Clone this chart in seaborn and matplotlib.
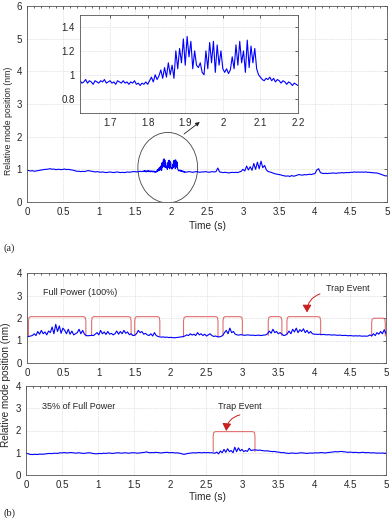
import numpy as np
import pandas as pd
import matplotlib
matplotlib.use("Agg")
import matplotlib.pyplot as plt
from matplotlib.patches import Ellipse
from matplotlib.ticker import FormatStrFormatter, MultipleLocator
import seaborn as sns

# ── Data ────────────────────────────────────────────────────────────────────
STEP = 0.025      # sample spacing of the full-length traces (s)
INSET_STEP = 0.005

# (a) top panel, 0 .. 1.6 s and 2.225 .. 5 s
top_left = [
    0.97, 0.96, 0.95, 0.96, 0.94, 0.95, 0.96, 0.97, 0.98, 0.99, 1.0, 1.0,
    1.01, 1.02, 1.0, 1.01, 0.99, 1.0, 1.0, 0.99, 1.0, 1.01, 0.99, 1.0,
    0.99, 0.98, 0.97, 0.95,
    0.94, 0.94, 0.93, 0.94, 0.93, 0.95, 0.96, 0.95, 0.94, 0.93, 0.92, 0.93,
    0.92, 0.91, 0.92, 0.91, 0.90, 0.91, 0.92, 0.91, 0.90, 0.91, 0.92, 0.91,
    0.90, 0.91, 0.90, 0.91, 0.92, 0.91, 0.92, 0.93,
    0.93, 0.92, 0.93, 0.94, 0.93,
]
top_right = [
    0.92, 0.93, 0.92, 0.91, 0.92, 0.93, 0.92, 0.91, 0.92, 0.92, 0.93, 0.92,
    0.91, 0.92, 0.93, 0.92,
    0.93, 1.04, 0.92, 0.91,
    0.90, 0.91, 0.90, 0.89, 0.90, 0.91, 0.90, 0.91, 0.90, 0.92, 0.94,
    1.0, 0.95, 1.1, 0.98, 1.08, 0.97, 1.18, 1.0, 1.22, 1.02, 1.25, 1.05, 1.12, 0.98,
    0.93, 0.92, 0.9, 0.88, 0.86, 0.85, 0.84, 0.83, 0.81, 0.8, 0.79, 0.8,
    0.78, 0.81, 0.79, 0.8, 0.82,
    0.84, 0.83, 0.82, 0.84, 0.83, 0.84, 0.85, 0.84, 0.86, 0.87,
    0.98, 1.02, 0.9,
    0.88, 0.87, 0.88, 0.87, 0.88, 0.88, 0.89, 0.88, 0.88, 0.89, 0.89, 0.9,
    0.89, 0.9, 0.9, 0.9, 0.91,
    0.91, 0.92, 0.91, 0.92, 0.91, 0.92, 0.91, 0.92, 0.91, 0.91, 0.9, 0.9,
    0.89, 0.89, 0.88, 0.86, 0.84, 0.82, 0.8, 0.8,
]
top_left_start, top_right_start = 0.0, 2.225

# (a) inset, 1.62 .. 2.2 s
inset_vals = [
    0.95, 0.93, 0.94, 0.96, 0.93, 0.95, 0.94, 0.92, 0.95, 0.94, 0.93, 0.95,
    0.94, 0.96, 0.93, 0.94, 0.95, 0.93, 0.94, 0.92, 0.95, 0.94, 0.93, 0.95,
    0.93, 0.94, 0.92, 0.94, 0.93, 0.95, 0.92, 0.93, 0.91, 0.93, 0.92, 0.94, 0.92,
    0.95, 0.98, 0.94, 1.0, 0.96, 0.99, 1.04, 0.97, 1.06, 0.98, 1.1, 1.0, 1.08, 0.97,
    1.2, 1.05, 1.22, 1.1, 1.3, 1.08, 1.32, 1.15, 1.28, 1.05, 1.2, 1.08,
    1.06, 1.1, 1.02, 1.0,
    1.2, 1.05, 1.27, 1.1, 1.28, 1.02, 1.25, 1.08, 1.2, 1.05,
    1.02, 1.05, 1.01, 1.04,
    1.15, 1.05, 1.25, 1.08, 1.28, 1.1, 1.2, 1.02, 1.29, 1.06, 1.24, 1.1, 1.22, 1.05,
    1.0, 0.98, 0.96, 0.95, 0.97, 0.96, 0.98, 0.95, 0.97, 0.94, 0.96, 0.95,
    0.93, 0.95, 0.94, 0.92, 0.94, 0.93, 0.91, 0.93, 0.92, 0.91,
]
inset_start = 1.62

# (b) full power, 0 .. 5 s
full_vals = [
    1.17, 1.18, 1.2, 1.22,
    1.3, 1.22, 1.4, 1.28, 1.45, 1.3, 1.38, 1.25, 1.42,
    1.35, 1.6, 1.3, 1.72, 1.4, 1.65, 1.32, 1.55,
    1.45, 1.3, 1.5, 1.28, 1.42, 1.25, 1.3,
    1.35, 1.5, 1.3, 1.45, 1.28,
    1.22, 1.21, 1.22, 1.23, 1.22,
    1.28, 1.35, 1.25, 1.45, 1.3, 1.38, 1.27, 1.4, 1.28, 1.32, 1.25,
    1.3, 1.42, 1.28, 1.4, 1.3, 1.45, 1.32, 1.38, 1.26, 1.3,
    1.22, 1.23,
    1.3, 1.45, 1.35, 1.4, 1.28, 1.32, 1.25,
    1.22, 1.3, 1.2, 1.35, 1.22, 1.18,
    1.16, 1.15, 1.16, 1.14, 1.15, 1.13, 1.14, 1.13, 1.12, 1.13, 1.14, 1.15, 1.16, 1.18,
    1.2, 1.25, 1.22, 1.3, 1.24, 1.28, 1.22, 1.35, 1.25, 1.3, 1.22, 1.28, 1.2,
    1.25, 1.3, 1.22, 1.18, 1.2, 1.17,
    1.16, 1.18, 1.22,
    1.35, 1.45, 1.3, 1.55, 1.35, 1.4, 1.28,
    1.25, 1.24, 1.26, 1.25, 1.23, 1.24, 1.25, 1.24, 1.23, 1.24, 1.22, 1.23,
    1.24, 1.22, 1.23, 1.24, 1.25,
    1.3, 1.42, 1.32, 1.5, 1.35, 1.4, 1.3, 1.35, 1.28,
    1.22, 1.24,
    1.3, 1.42, 1.3, 1.5, 1.38, 1.55, 1.35, 1.48, 1.4, 1.52, 1.35, 1.45, 1.32,
    1.4, 1.3, 1.28,
    1.28, 1.27, 1.28, 1.26, 1.27, 1.26, 1.25, 1.26, 1.25, 1.24, 1.25, 1.24,
    1.23, 1.24, 1.23, 1.22, 1.23, 1.22, 1.21, 1.22, 1.21, 1.2, 1.21, 1.2,
    1.21, 1.2, 1.19, 1.2, 1.19, 1.2,
    1.25, 1.2, 1.3, 1.22, 1.35, 1.28, 1.4, 1.3, 1.48, 1.3,
]

# (b) 35 % of full power, 0 .. 5 s
low_vals = [
    0.98, 0.96, 0.93, 0.92,
    0.92, 0.93, 0.92, 0.93, 0.94, 0.93, 0.94, 0.95, 0.96,
    0.97, 0.96, 0.97, 0.98, 0.97, 0.98, 1.0, 0.99, 1.01, 1.0, 0.99, 1.0,
    1.01, 1.0, 0.99, 0.98, 1.0, 0.99, 0.98, 0.97, 0.98, 0.99, 1.0, 0.99,
    0.97, 0.96, 0.95,
    0.96, 0.97, 0.96, 0.98, 0.97, 0.98, 0.99, 0.98, 0.97, 0.98, 0.99, 1.0,
    0.99, 0.98, 0.99, 1.0, 0.99, 0.98, 0.99, 1.0, 1.0,
    0.99, 0.98, 0.99, 1.0, 1.01, 1.02, 1.04, 1.01, 1.0, 1.01, 1.0, 1.02,
    1.01, 1.0, 0.99, 1.0, 1.01, 1.02, 1.01, 1.0,
    1.01, 1.0, 0.99, 1.0, 0.98, 0.97, 0.94, 0.93, 0.95, 0.97, 0.98, 0.99,
    1.0, 0.99, 1.0, 1.01, 1.0, 1.0, 1.01, 1.0, 1.01, 1.0, 1.0, 0.99,
    0.98, 1.03, 0.95, 1.08, 1.0, 1.15, 1.02, 1.18, 1.05, 1.1, 1.0, 1.25,
    1.05, 1.22, 1.08, 1.15, 1.05, 1.1, 1.06, 1.2,
    1.1, 1.12, 1.13, 1.12, 1.11, 1.12, 1.1, 1.09, 1.08, 1.09, 1.07, 1.06,
    1.05, 1.06, 1.04, 1.03,
    1.02, 1.0, 1.01, 0.99, 0.98, 0.97, 0.98, 0.99, 0.98, 0.97, 0.98, 0.99,
    1.0, 0.99, 0.98, 0.97, 0.98, 0.99, 0.98, 0.99,
    1.0, 0.99, 1.0, 1.01, 1.0, 0.99, 1.0, 1.01, 1.02, 1.03, 1.04, 1.05,
    1.04, 1.05, 1.06, 1.05, 1.04, 1.03, 1.02, 1.03, 1.02, 1.01, 1.02, 1.01,
    1.0, 1.01, 1.02, 1.01, 1.0, 1.01, 1.0, 0.99, 1.0, 0.99, 0.98, 0.99,
    0.98, 0.99, 0.98, 0.98,
]

# trap-event windows (red boxes)
full_trap_start = [0.02, 0.9, 1.5, 2.18, 2.73, 3.36, 3.62, 4.8]
full_trap_end = [0.82, 1.45, 1.85, 2.66, 3.0, 3.55, 4.09, 4.99]
full_trap_level = [2.06, 2.06, 2.06, 2.06, 2.06, 2.06, 2.06, 1.99]
full_trap_base = [1.2, 1.24, 1.22, 1.15, 1.25, 1.22, 1.25, 1.2]
low_trap_start = [2.6]
low_trap_end = [3.18]
low_trap_level = [1.95]
low_trap_base = [1.05]

time_ticks = [0, 0.5, 1, 1.5, 2, 2.5, 3, 3.5, 4, 4.5, 5]
inset_xticks = [1.7, 1.8, 1.9, 2.0, 2.1, 2.2]
inset_yticks = [0.8, 1.0, 1.2, 1.4]

BLUE = "#0000FF"
TRAP_RED = "#E07070"
ARROW_RED = "#C81E1E"
GRID = "#d9d9d9"
TXT = "#262626"

sns.set_style("white")
plt.rcParams["font.family"] = ["Liberation Sans", "DejaVu Sans"]


def trace(vals, start, step):
    t = start + step * np.arange(len(vals))
    return pd.DataFrame({"t": t, "v": vals})


def trap_path(s, e, level, base):
    xs = [s, s, s + 0.008, s + 0.03, e - 0.03, e - 0.008, e, e]
    ys = [base, level - 0.2, level - 0.04, level, level, level - 0.04, level - 0.2, base]
    return xs, ys


def style_axes(ax, xlim, ylim, xticks, yticks, fs=7, minor=None):
    ax.set_xlim(*xlim)
    ax.set_ylim(*ylim)
    ax.set_xticks(xticks)
    ax.set_yticks(yticks)
    if minor:
        ax.xaxis.set_minor_locator(MultipleLocator(minor))
    ax.xaxis.set_major_formatter(FormatStrFormatter("%g"))
    ax.yaxis.set_major_formatter(FormatStrFormatter("%g"))
    ax.grid(True, which="major", color=GRID, lw=0.5, ls=(0, (2, 1.5)))
    ax.tick_params(which="both", direction="in", top=True, right=True,
                   labelsize=fs, colors=TXT, length=2.5, width=0.5)
    ax.tick_params(which="minor", length=1.5)
    for sp in ax.spines.values():
        sp.set_color("#555555")
        sp.set_linewidth(0.6)
    ax.set_xlabel("")
    ax.set_ylabel("")


fig = plt.figure(figsize=(3.92, 5.30), dpi=100)
W, H = 392.0, 530.0


def px_axes(x0, y0, x1, y1):
    return fig.add_axes([x0 / W, 1 - y1 / H, (x1 - x0) / W, (y1 - y0) / H])


def trap_arrow(ax, start, end):
    ax.annotate("", xy=end, xytext=start,
                arrowprops=dict(arrowstyle="-|>,head_length=0.5,head_width=0.3",
                                color=ARROW_RED, lw=0.7, mutation_scale=9,
                                shrinkA=0, shrinkB=0,
                                connectionstyle="arc3,rad=0.35"))


# ── (a) ─────────────────────────────────────────────────────────────────────
ax1 = px_axes(27, 6, 387, 202)
inset = trace(inset_vals, inset_start, INSET_STEP)
top = pd.concat([trace(top_left, top_left_start, STEP), inset,
                 trace(top_right, top_right_start, STEP)], ignore_index=True)
sns.lineplot(data=top, x="t", y="v", ax=ax1, color=BLUE, lw=0.8,
             estimator=None, sort=False)
style_axes(ax1, (0, 5), (0, 6), time_ticks, range(0, 7), minor=0.1)
ax1.add_patch(Ellipse((1.955, 1.05), 0.83, 2.16, fill=False,
                      edgecolor="#444444", lw=0.6))
ax1.annotate("", xy=(2.43, 2.5), xytext=(2.15, 2.03),
             arrowprops=dict(arrowstyle="-|>", color="#222222", lw=0.6,
                             mutation_scale=6))
fig.text(207 / W, 1 - 226 / H, "Time (s)", ha="center", va="center",
         fontsize=7.3, color=TXT)
fig.text(9 / W, 1 - 121 / H, "Relative mode position (nm)", rotation=90,
         ha="center", va="center", fontsize=6.2, color=TXT)

axi = px_axes(80, 15, 298, 113)
sns.lineplot(data=inset, x="t", y="v", ax=axi, color=BLUE, lw=0.8,
             estimator=None, sort=False)
style_axes(axi, (1.62, 2.2), (0.68, 1.5), inset_xticks, inset_yticks)
axi.set_facecolor("white")

fig.text(3 / W, 1 - 248 / H, "(a)", fontsize=7.5, family="Liberation Serif",
         ha="left", va="center")

# ── (b) full power ──────────────────────────────────────────────────────────
ax2 = px_axes(27, 273, 386, 363)
for s, e, lv, b in zip(full_trap_start, full_trap_end, full_trap_level, full_trap_base):
    xs, ys = trap_path(s, e, lv, b)
    ax2.plot(xs, ys, color=TRAP_RED, lw=0.8)
sns.lineplot(data=trace(full_vals, 0.0, STEP), x="t", y="v", ax=ax2,
             color=BLUE, lw=0.8, estimator=None, sort=False)
style_axes(ax2, (0, 5), (0, 4), time_ticks, range(0, 5), minor=0.1)
ax2.text(0.22, 3.15, "Full Power (100%)", fontsize=6.5, color=TXT, va="center")
ax2.text(4.47, 3.29, "Trap Event", fontsize=6.5, color=TXT, ha="center", va="center")
trap_arrow(ax2, (4.08, 3.07), (3.9, 2.25))

# ── (b) 35 % power ──────────────────────────────────────────────────────────
ax3 = px_axes(26, 386, 386, 475)
for s, e, lv, b in zip(low_trap_start, low_trap_end, low_trap_level, low_trap_base):
    xs, ys = trap_path(s, e, lv, b)
    ax3.plot(xs, ys, color=TRAP_RED, lw=0.8)
sns.lineplot(data=trace(low_vals, 0.0, STEP), x="t", y="v", ax=ax3,
             color=BLUE, lw=0.8, estimator=None, sort=False)
style_axes(ax3, (0, 5), (0, 4), time_ticks, range(0, 5), minor=0.1)
ax3.text(0.22, 3.07, "35% of Full Power", fontsize=6.5, color=TXT, va="center")
ax3.text(2.97, 3.07, "Trap Event", fontsize=6.5, color=TXT, ha="center", va="center")
trap_arrow(ax3, (2.97, 2.7), (2.78, 1.98))

fig.text(207 / W, 1 - 497 / H, "Time (s)", ha="center", va="center",
         fontsize=7.3, color=TXT)
fig.text(6 / W, 1 - 385 / H, "Relative mode position (nm)", rotation=90,
         ha="center", va="center", fontsize=7.2, color=TXT)
fig.text(3 / W, 1 - 513 / H, "(b)", fontsize=7.5, family="Liberation Serif",
         ha="left", va="center")

fig.savefig("out.png", dpi=100)
